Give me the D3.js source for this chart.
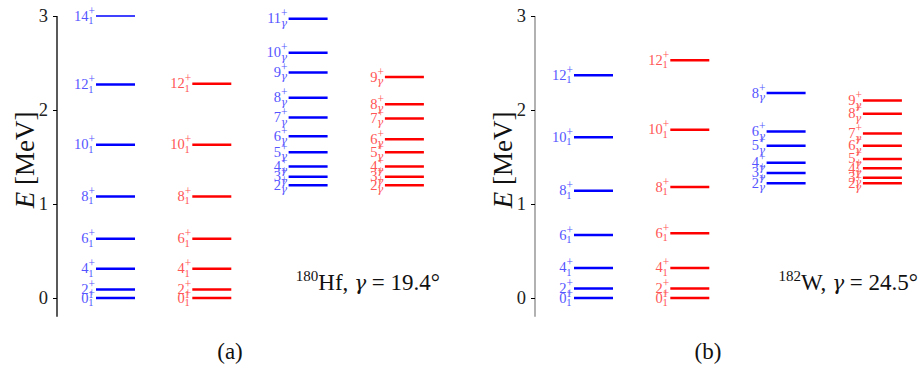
<!DOCTYPE html>
<html>
<head>
<meta charset="utf-8">
<script src="https://cdn.jsdelivr.net/npm/d3@7"></script>
<style>
  body { margin: 0; background: #fff; }
  svg text { font-family: "Liberation Serif", "DejaVu Serif", serif; }
  .greek { font-family: "DejaVu Serif", serif; font-style: italic; }
</style>
</head>
<body>
<div id="chart"></div>
<script>
// spins for each column
const groundSpins = [0, 2, 4, 6, 8, 10, 12, 14];
const gammaSpins = [2, 3, 4, 5, 6, 7, 8, 9, 10, 11];

// 180Hf (a)
const hfExpGround = [0, 0.09, 0.31, 0.63, 1.08, 1.63, 2.27, 3.0];
const hfThGround = [0, 0.09, 0.31, 0.63, 1.08, 1.63, 2.28];
const hfExpGamma = [1.20, 1.29, 1.40, 1.55, 1.72, 1.92, 2.13, 2.40, 2.61, 2.97];
const hfThGamma = [1.20, 1.29, 1.40, 1.55, 1.69, 1.91, 2.06, 2.35];

// 182W (b)
const wExpGround = [0, 0.10, 0.32, 0.67, 1.14, 1.71, 2.37];
const wThGround = [0, 0.10, 0.32, 0.69, 1.18, 1.79, 2.53];
const wExpGamma = [1.22, 1.33, 1.44, 1.62, 1.77, null, 2.18];
const wThGamma = [1.22, 1.28, 1.38, 1.48, 1.62, 1.75, 1.96, 2.10];

const yTicks = [0, 1, 2, 3];

const width = 919, height = 365;
const svg = d3.select("#chart").append("svg")
  .attr("width", width).attr("height", height);

const y = d3.scaleLinear().domain([-0.2, 3.0]).range([316.8, 16]);
const col = d3.scaleLinear().domain([0, 1]).range([96, 192.3]);
const barW = 39;

function levels(spins, energies, sub) {
  return energies.map((e, i) => ({ j: spins[i], e: e, sub: sub })).filter(d => d.e !== null);
}

function drawColumn(g, data, ci, color, labelColor) {
  const x0 = col(ci);
  g.selectAll(null).data(data).enter().append("line")
    .attr("x1", x0).attr("x2", x0 + barW)
    .attr("y1", d => y(d.e)).attr("y2", d => y(d.e))
    .attr("stroke", color)
    .attr("stroke-width", d => d.j === 14 ? 1.5 : 2.5);

  const t = g.selectAll(null).data(data).enter().append("text")
    .attr("x", x0 - 1).attr("y", d => y(d.e) + 4.5)
    .attr("text-anchor", "end")
    .attr("fill", labelColor)
    .attr("font-size", 14.5);
  t.append("tspan").text(d => d.j);
  t.append("tspan").attr("font-size", 11.5).attr("dy", -6).text("+");
  t.append("tspan").attr("font-size", 10.5).attr("dx", -6.8).attr("dy", 9.5)
    .attr("class", d => d.sub === "γ" ? "greek" : null).text(d => d.sub);
}

function drawPanel(offset, axisColor, sets, nucl, gammaText, tag) {
  const g = svg.append("g").attr("transform", `translate(${offset},0)`);

  const axis = d3.axisLeft(y).tickValues(yTicks).tickSize(4).tickPadding(5).tickFormat(d3.format("d"));
  const ax = g.append("g").attr("transform", "translate(57,0)").call(axis);
  ax.select(".domain").attr("stroke", axisColor).attr("stroke-width", 1.3)
    .attr("d", `M0,${y(3)}V${y(-0.2)}`);
  ax.selectAll(".tick line").attr("stroke", "#000");
  ax.selectAll(".tick text").attr("font-size", 18.5).attr("fill", "#222")
    .style("font-family", "'Liberation Serif', serif");

  const lab = g.append("text")
    .attr("transform", `translate(34,${y(1.47)}) rotate(-90)`)
    .attr("text-anchor", "middle").attr("font-size", 27).attr("fill", "#111");
  lab.append("tspan").attr("font-style", "italic").text("E");
  lab.append("tspan").text(" [MeV]");

  drawColumn(g, sets[0], 0, "#0000ff", "#5555ff");
  drawColumn(g, sets[1], 1, "#ff0000", "#ff5555");
  drawColumn(g, sets[2], 2, "#0000ff", "#5555ff");
  drawColumn(g, sets[3], 3, "#ff0000", "#ff5555");

  const ann = g.append("text")
    .attr("x", 440).attr("y", 290).attr("text-anchor", "end")
    .attr("font-size", 23).attr("fill", "#111");
  ann.append("tspan").attr("font-size", 15).attr("dy", -9).text(nucl[0]);
  ann.append("tspan").attr("dy", 9).text(nucl[1] + ", ");
  ann.append("tspan").attr("class", "greek").attr("font-size", 20).text("γ");
  ann.append("tspan").text(" = " + gammaText + "°");

  g.append("text").attr("x", 230).attr("y", 359).attr("text-anchor", "middle")
    .attr("font-size", 23).attr("fill", "#111").text(tag);
}

drawPanel(0, "#000",
  [levels(groundSpins, hfExpGround, "1"), levels(groundSpins, hfThGround, "1"),
   levels(gammaSpins, hfExpGamma, "γ"), levels(gammaSpins, hfThGamma, "γ")],
  ["180", "Hf"], "19.4", "(a)");

drawPanel(478, "#888",
  [levels(groundSpins, wExpGround, "1"), levels(groundSpins, wThGround, "1"),
   levels(gammaSpins, wExpGamma, "γ"), levels(gammaSpins, wThGamma, "γ")],
  ["182", "W"], "24.5", "(b)");
</script>
</body>
</html>
